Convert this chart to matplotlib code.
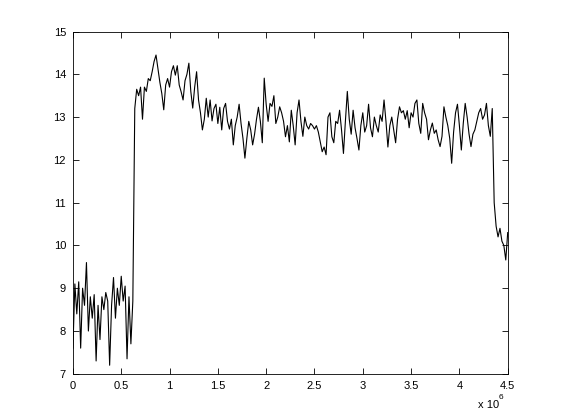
import numpy as np
import matplotlib
matplotlib.use("Agg")
import matplotlib.pyplot as plt

# sample spacing along x (raw units)
step = 2e4

# series values, segment by segment
seg_low = [7.6, 9.1, 8.4, 9.15, 7.6, 9.0, 8.6, 9.6, 8.0, 8.8, 8.3, 8.85, 7.3, 8.6, 7.8, 8.8,
           8.5, 8.9, 8.7, 7.2, 8.6, 9.25, 8.3, 9.0, 8.6, 9.28, 8.7, 9.05, 7.35, 8.8, 7.7, 8.7]
seg_peak = [13.2, 13.65, 13.5, 13.7, 12.95, 13.7, 13.6, 13.9, 13.85, 14.06, 14.3, 14.45, 14.13,
            13.81, 13.55, 13.17, 13.75, 13.9, 13.7, 14.06, 14.2, 13.98, 14.2, 13.75, 13.59, 13.4,
            13.85, 14.0, 14.26, 13.6, 13.21, 13.7, 14.06, 13.4, 13.1, 12.7, 12.95]
seg_mid1 = [13.44, 13.0, 13.4, 12.91, 13.2, 13.3, 12.85, 13.23, 12.7, 13.2, 13.32, 12.9, 12.72,
            12.95, 12.35, 12.8, 13.0, 13.3, 12.85, 12.5, 12.04, 12.5, 12.9, 12.7, 12.35, 12.6,
            12.95, 13.23, 12.9, 12.4, 13.91, 13.3, 12.9, 13.32, 13.25, 13.5]
seg_mid2 = [12.85, 13.0, 13.24, 13.1, 12.9, 12.54, 12.8, 12.42, 13.16, 12.8, 12.35, 13.1, 13.4,
            12.9, 12.55, 13.0, 12.8, 12.72, 12.85, 12.8, 12.72, 12.8, 12.65, 12.42, 12.19, 12.3,
            12.12, 13.0, 13.1, 12.54, 12.4, 12.9, 12.85, 13.16, 12.7, 12.15]
seg_mid3 = [12.9, 13.6, 12.95, 12.6, 13.16, 12.75, 12.5, 12.23, 12.8, 13.1, 12.65, 12.8, 13.3,
            12.75, 12.54, 13.0, 12.8, 12.65, 13.05, 12.9, 13.4, 12.9, 12.3, 12.8, 13.0, 12.7,
            12.4, 12.95, 13.24, 13.1, 13.15, 12.95, 13.15, 12.75, 13.1, 13.0]
seg_end = [13.32, 13.4, 12.85, 12.62, 13.32, 13.1, 12.95, 12.47, 12.7, 12.86, 12.62, 12.7, 12.47,
           12.31, 12.55, 13.24, 13.0, 12.8, 12.5, 11.92, 12.65, 13.1, 13.3, 12.8, 12.23, 12.85,
           13.32, 13.0, 12.6, 12.31, 12.6, 12.7, 12.9, 13.1, 13.2, 12.95, 13.05, 13.32, 12.8,
           12.55, 13.2, 11.0, 10.45, 10.2, 10.4, 10.1, 10.0, 9.66, 10.3]

x_ticks = [0, 0.5e6, 1e6, 1.5e6, 2e6, 2.5e6, 3e6, 3.5e6, 4e6, 4.5e6]
x_ticklabels = ["0", "0.5", "1", "1.5", "2", "2.5", "3", "3.5", "4", "4.5"]
y_ticks = [7, 8, 9, 10, 11, 12, 13, 14, 15]
y_ticklabels = ["7", "8", "9", "10", "11", "12", "13", "14", "15"]

y = np.array(seg_low + seg_peak + seg_mid1 + seg_mid2 + seg_mid3 + seg_end)
x = np.arange(len(y)) * step

plt.rcParams['font.family'] = ['Liberation Sans', 'DejaVu Sans']

fig = plt.figure(figsize=(5.61, 4.20), dpi=100, facecolor="white")
ax = fig.add_axes([0.13, 0.11, 0.775, 0.815])
ax.plot(x, y, color="black", linewidth=0.8)

ax.set_xlim(0, 4.5e6)
ax.set_ylim(7, 15)
ax.set_xticks(x_ticks)
ax.set_xticklabels(x_ticklabels)
ax.set_yticks(y_ticks)
ax.set_yticklabels(y_ticklabels)
ax.tick_params(direction="in", length=4.5, width=0.6, top=True, right=True,
               labelsize=8, pad=5, colors="black")
for sp in ax.spines.values():
    sp.set_linewidth(0.6)
    sp.set_color("black")

fig.text(478 / 561, 1 - 408 / 420, "x 10", fontsize=8, ha="left", va="baseline")
fig.text(499 / 561, 1 - 399 / 420, "6", fontsize=6, ha="left", va="baseline")

fig.savefig("out.png", dpi=100, facecolor="white")
